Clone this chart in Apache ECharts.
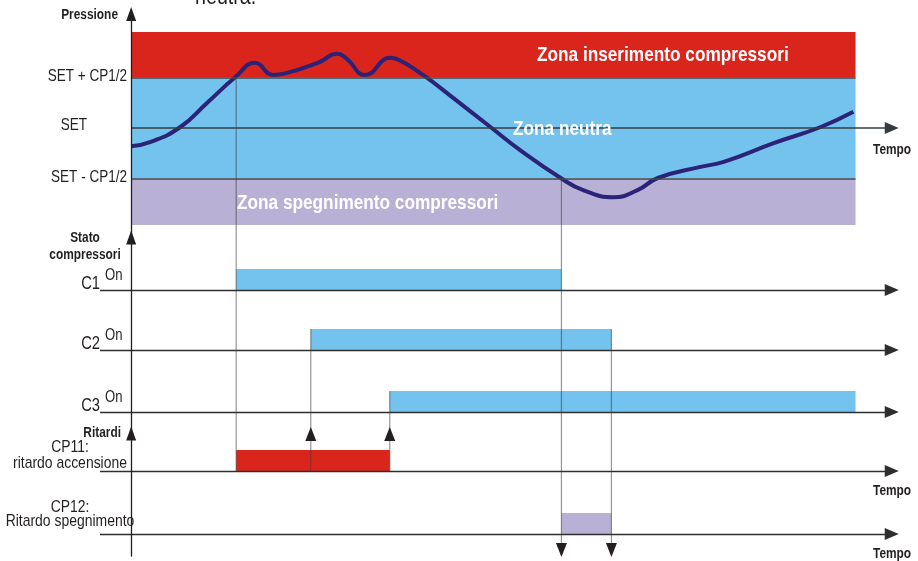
<!DOCTYPE html>
<html>
<head>
<meta charset="utf-8">
<script src="https://cdn.jsdelivr.net/npm/echarts@6/dist/echarts.min.js"></script>
<style>
  html, body { margin: 0; padding: 0; background: #fff; }
  #chart { width: 918px; height: 561px; }
</style>
</head>
<body>
<div id="chart"></div>
<script>
// no narrow font installed: Liberation Sans squeezed to 82% stands in for Arial Narrow
const FONT = "'Liberation Sans', Arial, sans-serif";
const NARROW = 0.82;
const INK = '#231f20';

// Time runs 0 → 100 across the pressure zones.
const T_START = 0;
const T_END = 100;

// Pressure curve (SET = 0, CP1/2 = 1).
const CURVE_T = [0, 2.6, 6.8, 10.5, 14.4, 17.1, 19.6, 22.0, 25.0, 26.1, 28.4, 29.7, 32.3,
  35.8, 37.2, 40.3, 44.5, 49.6, 53.7, 59.3, 62.4, 66.6, 69.9, 72.7, 78.6, 81.8, 88.7, 95.2, 99.7];
const CURVE_P = [-0.36, -0.28, 0.02, 0.5, 1.01, 1.29, 1.05, 1.11, 1.25, 1.31, 1.47, 1.38, 1.05,
  1.39, 1.33, 1.05, 0.59, 0.02, -0.44, -0.99, -1.23, -1.37, -1.23, -0.99, -0.77, -0.67, -0.3, 0.02, 0.32];

const LEVELS = [1, 0, -1];
const LEVEL_LABELS = ['SET + CP1/2', 'SET', 'SET - CP1/2'];

const ZONE_NAMES = ['Zona inserimento compressori', 'Zona neutra', 'Zona spegnimento compressori'];
const ZONE_LOW = [1, -1, -1.92];
const ZONE_HIGH = [1.9, 1, -1];
const ZONE_COLORS = ['#da251d', '#74c3ee', '#b8b1d5'];

const COMPRESSORS = ['C1', 'C2', 'C3'];
const COMP_ON = [14.5, 24.8, 35.7];
const COMP_OFF = [59.4, 66.3, 100];

const DELAYS = ['CP11', 'CP12'];
const DELAY_LABELS = [['CP11:', 'ritardo accensione'], ['CP12:', 'Ritardo spegnimento']];
const DELAY_START = [14.5, 59.4];
const DELAY_END = [35.7, 66.3];
const DELAY_COLORS = ['#da251d', '#b8b1d5'];

// layout: lane baselines inside their grids, "On" = +1
const ON = 1;
const COMP_BASE = [6.83, 3.98, 1.02];
const DELAY_BASE = [4.05, 1.05];
const X_MIN = -4.3, X_MAX = 106, ARROW_END = 105;

const chart = echarts.init(document.getElementById('chart'));

function xAxis(i) {
  return { gridIndex: i, type: 'value', min: X_MIN, max: X_MAX, show: false };
}
function arrowAxis(i, min, max) {
  return {
    gridIndex: i, type: 'value', min, max, z: 5,
    axisLine: { show: true, onZero: true, symbol: ['none', 'triangle'], symbolSize: [10, 14],
      lineStyle: { color: INK, width: 1.3 } },
    axisTick: { show: false },
    axisLabel: { show: false },
    splitLine: { show: false },
  };
}

function rectItem(color) {
  return (params, api) => {
    const a = api.coord([api.value(0), api.value(3)]);
    const b = api.coord([api.value(1), api.value(2)]);
    return {
      type: 'rect',
      shape: { x: a[0], y: a[1], width: b[0] - a[0], height: b[1] - a[1] },
      style: { fill: typeof color === 'function' ? color(params.dataIndex) : color },
    };
  };
}

function laneLine(base) {
  return [
    { coord: [X_MIN, base], symbol: 'none' },
    { coord: [ARROW_END, base], symbol: 'triangle' },
  ];
}

const laneMarks = bases => ({
  silent: true,
  symbolSize: [12, 14],
  label: { show: false },
  lineStyle: { color: '#2e2e2e', width: 1.4, type: 'solid' },
  data: bases.map(laneLine),
});

const option = {
  animation: false,
  backgroundColor: '#fff',
  grid: [
    { left: 100, right: 19, top: 14, bottom: 323.5 },
    { left: 100, right: 19, top: 237.5, bottom: 127.5 },
    { left: 100, right: 19, top: 433.5, bottom: 5 },
  ],
  xAxis: [xAxis(0), xAxis(1), xAxis(2)],
  yAxis: [arrowAxis(0, -2.168, 2.257), arrowAxis(1, 0, 9.333), arrowAxis(2, 0, 5.833)],
  series: [
    {
      name: 'zone',
      type: 'custom',
      xAxisIndex: 0, yAxisIndex: 0,
      z: 1,
      data: ZONE_LOW.map((lo, i) => [T_START, T_END, lo, ZONE_HIGH[i]]),
      renderItem: rectItem(i => ZONE_COLORS[i]),
      markLine: {
        silent: true,
        symbol: ['none', 'none'],
        symbolSize: [12, 14],
        label: { show: false },
        lineStyle: { type: 'solid' },
        data: [
          [{ coord: [T_START, LEVELS[0]], lineStyle: { color: '#3e4b52', width: 1.5 } },
            { coord: [T_END, LEVELS[0]] }],
          [{ coord: [T_START, LEVELS[2]], lineStyle: { color: '#3e4b52', width: 1.5 } },
            { coord: [T_END, LEVELS[2]] }],
          [{ coord: [T_START, LEVELS[1]], symbol: 'none', lineStyle: { color: '#353c40', width: 1.5 } },
            { coord: [ARROW_END, LEVELS[1]], symbol: 'triangle' }],
        ],
      },
    },
    {
      name: 'Pressione',
      type: 'line',
      xAxisIndex: 0, yAxisIndex: 0,
      z: 4,
      smooth: 0.5,
      showSymbol: false,
      lineStyle: { color: '#2b2377', width: 4 },
      data: CURVE_T.map((t, i) => [t, CURVE_P[i]]),
    },
    {
      name: 'compressori',
      type: 'custom',
      xAxisIndex: 1, yAxisIndex: 1,
      z: 2,
      data: COMPRESSORS.map((c, i) => [COMP_ON[i], COMP_OFF[i], COMP_BASE[i], COMP_BASE[i] + ON]),
      renderItem: rectItem('#74c3ee'),
      markLine: laneMarks(COMP_BASE),
    },
    {
      name: 'ritardi',
      type: 'custom',
      xAxisIndex: 2, yAxisIndex: 2,
      z: 2,
      data: DELAYS.map((d, i) => [DELAY_START[i], DELAY_END[i], DELAY_BASE[i], DELAY_BASE[i] + ON]),
      renderItem: rectItem(i => DELAY_COLORS[i]),
      markLine: laneMarks(DELAY_BASE),
    },
  ],
};
chart.setOption(option);

// connectors and labels, placed from the axes' own scales
const px = (g, t, v) => chart.convertToPixel({ gridIndex: g }, [t, v]);
const gfx = [];

function text(str, x, y, size, opts) {
  opts = opts || {};
  gfx.push({
    type: 'text', x, y, z: 20, silent: true, scaleX: NARROW,
    style: Object.assign({
      text: str, fill: INK, align: 'left', verticalAlign: 'middle',
      font: (opts.bold ? 'bold ' : '') + size + 'px ' + FONT,
    }, opts.style),
  });
}
function vline(x, y1, y2) {
  gfx.push({ type: 'line', z: 12, silent: true, shape: { x1: x, y1, x2: x, y2 },
    style: { stroke: 'rgba(60,60,60,0.55)', lineWidth: 1.2 } });
}
function arrow(x, tip, dir) {
  const h = 14 * dir, w = 5.5;
  gfx.push({ type: 'polygon', z: 13, silent: true,
    shape: { points: [[x, tip], [x - w, tip + h], [x + w, tip + h]] },
    style: { fill: INK } });
}

const cp11Base = px(2, 0, DELAY_BASE[0])[1];
const cp11Top = px(2, 0, DELAY_BASE[0] + ON)[1];
const bottom = px(2, 0, 0)[1] + 1;

// pressure rises above SET + CP1/2: C1 on, CP11 starts
{
  const p = px(0, COMP_ON[0], LEVELS[0]);
  vline(p[0], p[1], cp11Base);
}
// C2, C3 switch on when CP11 elapses
[1, 2].forEach(i => {
  const p = px(1, COMP_ON[i], COMP_BASE[i] + ON);
  vline(p[0], p[1], cp11Base);
  arrow(p[0], cp11Top - 23, 1);
});
// pressure falls below SET - CP1/2: C1 off, CP12 starts
{
  const p = px(0, COMP_OFF[0], LEVELS[2]);
  vline(p[0], p[1], bottom - 2);
  arrow(p[0], bottom, -1);
}
// C2 off when CP12 elapses
{
  const p = px(1, COMP_OFF[1], COMP_BASE[1] + ON);
  vline(p[0], p[1], bottom - 2);
  arrow(p[0], bottom, -1);
}

// pressure levels on the first axis
LEVELS.forEach((v, i) => {
  const y = px(0, 0, v)[1];
  if (v === 0) text(LEVEL_LABELS[i], 87, y - 3, 16.5, { style: { align: 'right' } });
  else text(LEVEL_LABELS[i], 127, y - 1.5, 16.5, { style: { align: 'right' } });
});

// titles of the three panels
text('Pressione', 118, 15, 14.5, { bold: true, style: { align: 'right' } });
text('Stato', 85, 238, 14.5, { bold: true, style: { align: 'center' } });
text('compressori', 85, 255, 14.5, { bold: true, style: { align: 'center' } });
text('Ritardi', 121, 433, 14.5, { bold: true, style: { align: 'right' } });

// zone names
const zoneAt = [[537, 55], [513, 129], [237, 203]];
ZONE_NAMES.forEach((z, i) => text(z, zoneAt[i][0], zoneAt[i][1], 21,
  { bold: true, style: { fill: '#fff' } }));

// compressor lanes
COMPRESSORS.forEach((c, i) => {
  const y = px(1, 0, COMP_BASE[i])[1];
  text(c, 100, y - 6, 18, { style: { align: 'right' } });
  text('On', 105, y - 14, 16);
});

// delay lanes
DELAYS.forEach((d, i) => {
  const y = px(2, 0, DELAY_BASE[i])[1];
  text(DELAY_LABELS[i][0], 70, y - (i ? 27 : 24), 17, { style: { align: 'center' } });
  text(DELAY_LABELS[i][1], 70, y - (i ? 13 : 8), 17, { style: { align: 'center' } });
});

// time labels under the arrows
[px(0, 0, LEVELS[1])[1], cp11Base, px(2, 0, DELAY_BASE[1])[1]].forEach((y, i) =>
  text('Tempo', 873, y + (i ? 20 : 22), 14.5, { bold: true }));

// caption cut at the top edge of the picture
text('neutra.', 195, 9, 24, { style: { verticalAlign: 'bottom' } });

chart.setOption({ graphic: gfx });
</script>
</body>
</html>
